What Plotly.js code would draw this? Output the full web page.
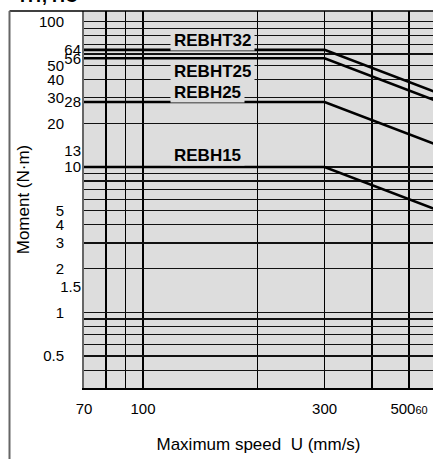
<!DOCTYPE html>
<html>
<head>
<meta charset="utf-8">
<script src="https://cdn.plot.ly/plotly-3.0.1.min.js"></script>
<style>html,body{margin:0;padding:0;background:#fff;}</style>
</head>
<body>
<div id="chart" style="width:433px;height:459px;"></div>
<script>
// ---- data ----
const speed = [70, 300, 600];            // mm/s
const seriesNames = ['REBHT32', 'REBHT25', 'REBH25', 'REBH15'];
const rebht32 = [64, 64, 32];
const rebht25 = [56, 56, 28];
const rebh25 = [28, 28, 14];
const rebh15 = [10, 10, 5];
const seriesValues = [rebht32, rebht25, rebh25, rebh15];

const xTickVals = [70, 100, 300, 500];
const xTickText = ['70', '100', '300', '500<span style="font-size:11px">60</span>'];
const xGridVals = [80, 90, 100, 200, 300, 400, 500, 600];
const yTickOuter = [100, 50, 40, 30, 20, 5, 4, 3, 2, 1, 0.5];
const yTickInner = [64, 56, 28, 13, 10, 1.5];
const yGridVals = [0.4, 0.5, 0.6, 0.7, 0.8, 0.9, 1, 2, 3, 4, 5, 6, 7, 8, 9, 10, 20, 30, 40, 50, 60, 70, 80, 90, 100];

// ---- chart ----
const FONT = 'Liberation Sans, Arial, sans-serif';
const xRange = [Math.log10(70), Math.log10(578)];
const yRange = [-0.521, 2.0735];

const traces = seriesValues.map((vals, i) => ({
  x: speed, y: vals, type: 'scatter', mode: 'lines',
  name: seriesNames[i], line: {color: '#000', width: 2.6},
  hoverinfo: 'skip', showlegend: false, cliponaxis: true
}));
traces.push({x: speed, y: rebh15, yaxis: 'y2', type: 'scatter', mode: 'lines',
  line: {color: 'rgba(0,0,0,0)', width: 0}, hoverinfo: 'skip', showlegend: false});

const labelShift = {REBHT32: 10, REBHT25: -13, REBH25: 10, REBH15: 12};
const annotations = seriesNames.map((n, i) => ({
  text: n, xref: 'x', yref: 'y',
  x: Math.log10(118), y: Math.log10(seriesValues[i][0]),
  xanchor: 'left', yanchor: 'middle', yshift: labelShift[n],
  showarrow: false, bgcolor: '#dddddd', borderpad: 3, height: 14,
  font: {family: FONT, size: 17, color: '#000', weight: 'bold'}
}));
annotations.push({text: 'HT, HC', xref: 'paper', yref: 'paper', x: (18 - 84) / 349, y: 1,
  xanchor: 'left', yanchor: 'bottom', yshift: 3, showarrow: false,
  font: {family: FONT, size: 18, color: '#000', weight: 'bold'}});

const frameX = (9.5 - 84) / 349;
const layout = {
  width: 433, height: 459,
  margin: {l: 84, r: 0, t: 11, b: 71, pad: 0},
  paper_bgcolor: '#ffffff', plot_bgcolor: '#dddddd',
  font: {family: FONT, size: 15, color: '#000'},
  showlegend: false,
  xaxis: {
    type: 'log', range: xRange, autorange: false,
    tickvals: xTickVals, ticktext: xTickText, ticks: '',
    showgrid: false, zeroline: false,
    showline: true, linecolor: '#000', linewidth: 1.5,
    ticklabelstandoff: 6,
    tickfont: {family: FONT, size: 15, color: '#000'},
    minor: {tickvals: xGridVals, showgrid: true, gridcolor: '#000', gridwidth: 1.5, ticks: ''},
    title: {text: 'Maximum speed\u00a0 U (mm/s)', font: {family: FONT, size: 17, color: '#000'}, standoff: 22}
  },
  yaxis: {
    type: 'log', range: yRange, autorange: false,
    tickvals: yTickOuter, ticktext: yTickOuter.map(String), ticks: '',
    showgrid: false, zeroline: false,
    showline: true, linecolor: '#666', linewidth: 2,
    ticklabelstandoff: 15,
    tickfont: {family: FONT, size: 15, color: '#000'},
    minor: {tickvals: yGridVals, showgrid: true, gridcolor: '#111', gridwidth: 1.2, ticks: ''},
    title: {text: 'Moment (N·m)', font: {family: FONT, size: 17, color: '#000'}, standoff: 5}
  },
  yaxis2: {
    type: 'log', range: yRange, autorange: false, overlaying: 'y', side: 'left',
    tickvals: yTickInner, ticktext: yTickInner.map(String), ticks: '',
    showgrid: false, zeroline: false, showline: false,
    ticklabelstandoff: 2,
    tickfont: {family: FONT, size: 15, color: '#000'}
  },
  annotations: annotations,
  shapes: [
    {type: 'line', xref: 'paper', yref: 'paper', x0: frameX, x1: 1, y0: 1, y1: 1, line: {color: '#000', width: 1.5}},
    {type: 'line', xref: 'paper', yref: 'paper', x0: frameX, x1: frameX, y0: 1, y1: -0.3, line: {color: '#666', width: 2}}
  ]
};

Plotly.newPlot('chart', traces, layout, {staticPlot: true, displayModeBar: false});
</script>
</body>
</html>
